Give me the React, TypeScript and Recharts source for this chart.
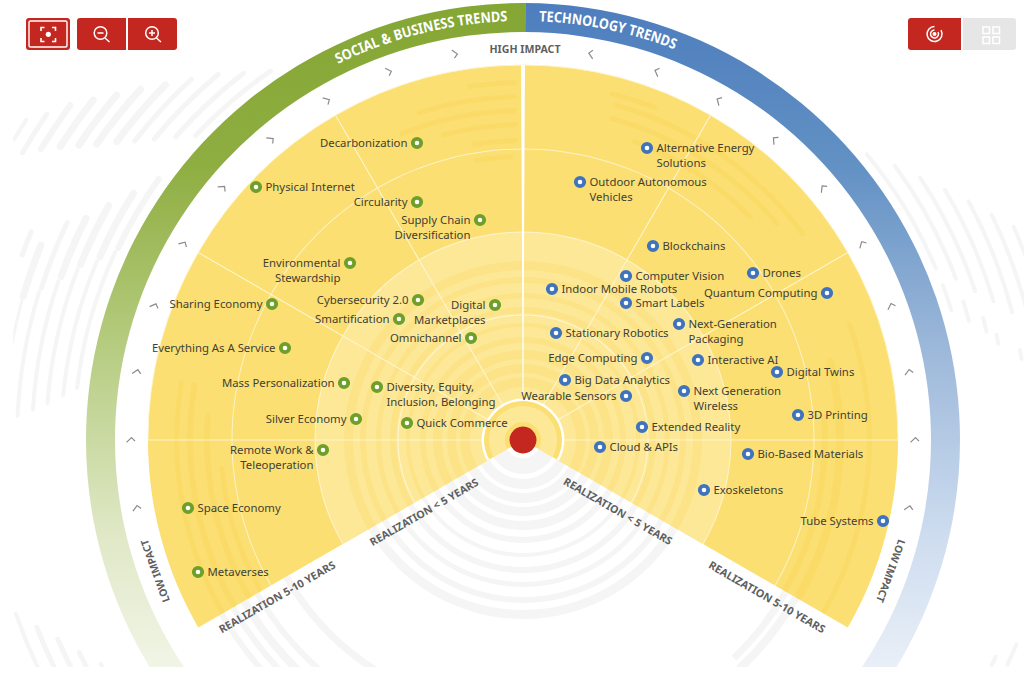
import React from "react";
import { PieChart, Pie, ScatterChart, Scatter, XAxis, YAxis } from "recharts";

const W = 1024;
const H = 667;
const HUB_X = 523;
const HUB_Y = 440;

// ---- trend data: position on the radar, relative to the hub (x right, y up)
const socialNames = [
  "Decarbonization", "Physical Internet", "Circularity", "Supply Chain\nDiversification",
  "Environmental\nStewardship", "Sharing Economy", "Cybersecurity 2.0", "Smartification",
  "Digital\nMarketplaces", "Omnichannel", "Everything As A Service", "Mass Personalization",
  "Diversity, Equity,\nInclusion, Belonging", "Silver Economy", "Quick Commerce",
  "Remote Work &\nTeleoperation", "Space Economy", "Metaverses",
];
const socialX = [-106, -267, -106, -43, -173, -251, -105, -124, -28, -52, -238, -179, -146, -167, -116, -200, -335, -325];
const socialY = [297, 253, 238, 220, 177, 136, 140, 121, 135, 102, 92, 57, 53, 21, 17, -10, -68, -132];

const techNames = [
  "Alternative Energy\nSolutions", "Outdoor Autonomous\nVehicles", "Blockchains", "Computer Vision",
  "Drones", "Indoor Mobile Robots", "Quantum Computing", "Smart Labels",
  "Next-Generation\nPackaging", "Stationary Robotics", "Edge Computing", "Interactive AI",
  "Digital Twins", "Big Data Analytics", "Wearable Sensors", "Next Generation\nWireless",
  "3D Printing", "Extended Reality", "Cloud & APIs", "Bio-Based Materials", "Exoskeletons", "Tube Systems",
];
const techX = [124, 57, 130, 103, 230, 29, 304, 103, 156, 33, 124, 175, 254, 42, 103, 161, 275, 119, 77, 225, 181, 360];
const techY = [292, 258, 194, 164, 167, 151, 147, 137, 116, 107, 82, 80, 68, 60, 44, 49, 25, 13, -7, -14, -50, -81];

const labelsOnLeft = [
  "Decarbonization", "Circularity", "Supply Chain\nDiversification", "Environmental\nStewardship",
  "Sharing Economy", "Cybersecurity 2.0", "Smartification", "Digital\nMarketplaces", "Omnichannel",
  "Everything As A Service", "Mass Personalization", "Silver Economy", "Remote Work &\nTeleoperation",
  "Quantum Computing", "Edge Computing", "Wearable Sensors", "Tube Systems",
];

const chevronAnglesLeft = [100, 110, 120, 130, 140, 150, 160, 170, 180, 190];
const chevronAnglesRight = [80, 70, 60, 50, 40, 30, 20, 10, 0, -10];
const CHEVRON_RADIUS = 392;

const spokeWedges = [30, 30, 30, 30, 30, 30];
const ringRadii = [125, 208, 291];

// decoration: [inner radius, outer radius]
const innerBands = [
  [18, 34], [39, 49], [53, 63], [67, 76], [81, 90], [97, 103], [113, 117],
  [127, 133], [142, 147], [157, 163], [170, 179],
];
// decoration in the yellow outer zone: [inner, outer, from angle, to angle]
const outerBands = [
  [355, 360, 91, 99], [341, 346, 91, 108], [327, 332, 91, 112], [313, 318, 91, 105], [297, 302, 91, 100],
  [281, 286, 92, 100], [355, 360, 68, 76], [345, 350, 36, 75], [331, 336, 40, 75], [316, 321, 44, 70],
  [344, 349, -30, 20], [313, 321, -30, 15], [299, 305, -30, 5], [344, 349, 170, 210], [330, 336, 170, 210],
  [313, 319, 175, 210], [300, 305, 185, 210],
];
// decoration below the fan: [inner, outer, from angle, to angle]
const lowerBands = [
  [345, 351, 210, 226], [332, 338, 210, 228], [318, 326, 210, 230], [304, 310, 210, 232], [270, 277, 210, 238],
  [300, 307, 314, 330], [311, 319, 312, 330],
];
// decoration outside the ring: [radius, from angle, to angle, thickness]
const stripes = [
  [591, 147, 149.6, 4], [577, 145.4, 150.4, 5], [563, 143.2, 149.2, 6], [548, 141.3, 148, 7], [533, 139.3, 146.8, 7],
  [519, 137.1, 145.6, 7], [504, 134.8, 144.1, 7], [490, 132.3, 142.7, 5], [476, 129.5, 141.1, 5], [461, 127, 139.2, 5], [447, 124.1, 137.4, 5],
  [448, 144, 155, 6], [461, 147.2, 157, 7], [476, 150.1, 158.8, 7], [490, 152.7, 160.9, 7], [505, 154.2, 162.8, 5], [520, 157.6, 164.4, 7], [534, 156.8, 160, 5],
  [449, 155, 173.6, 4], [462, 157, 174.7, 4], [477, 158.8, 175.8, 4], [491, 160.9, 176.7, 4], [506, 162.8, 177.5, 4], [520, 164.4, 178, 3],
  [536, 198.7, 206, 4], [521, 200.8, 208, 5], [506, 202.9, 208, 5], [492, 205.3, 209, 5], [478, 207.7, 210, 4],
  [447, 22.3, 40, 4], [462, 20.2, 36.7, 4], [476, 18, 33.7, 4], [490.5, 16.2, 30.9, 4], [505.5, 14.4, 28.4, 4], [520, 8, 25.9, 4], [535, 8, 23.7, 4],
  [447.5, 16.6, 20.5, 4], [461.5, 14.7, 17.7, 4], [476, 12.9, 15.1, 4], [485, 11.2, 12.8, 4], [505, 9, 10.5, 4],
  [534, -25.1, -22.3, 4], [520, -25.9, -24.4, 4],
];

const FONT = "'Noto Sans', sans-serif";
const TEXT = "#3f3f33";
const RED = "#c4271f";
const DARK = "#fbdf73";
const LIGHT = "#fde898";
const DARK_BAND = "#fadb68";
const LIGHT_BAND = "#fce388";
const GREY = "#f5f5f5";

const num = (v: number) => [{ value: v }];

const trendRows = (names: string[], xs: number[], ys: number[]) =>
  names.map((name, i) => ({ name, x: xs[i], y: ys[i] }));
const socialRows = trendRows(socialNames, socialX, socialY);
const techRows = trendRows(techNames, techX, techY);

const chevronRows = (angles: number[], rotate: (a: number) => number) =>
  angles.map((a) => ({
    x: CHEVRON_RADIUS * Math.cos((a * Math.PI) / 180),
    y: CHEVRON_RADIUS * Math.sin((a * Math.PI) / 180),
    rotation: rotate(a),
  }));
const chevrons = [
  ...chevronRows(chevronAnglesLeft, (a) => 180 - a),
  ...chevronRows(chevronAnglesRight, (a) => -a),
];

const trendShape = (color: string) => (props: any) => {
  const { cx, cy, payload } = props;
  const left = labelsOnLeft.includes(payload.name);
  const lines: string[] = payload.name.split("\n");
  return (
    <g>
      <circle cx={cx} cy={cy} r={4.2} fill="#fff" stroke={color} strokeWidth={3.8} />
      <text
        x={left ? cx - 9.5 : cx + 9.5}
        y={cy + 4}
        textAnchor={left ? "end" : "start"}
        fontFamily={FONT}
        fontSize={11.35}
        fill={TEXT}
      >
        {lines.map((l, i) => (
          <tspan key={i} x={left ? cx - 9.5 : cx + 9.5} dy={i === 0 ? 0 : 15.4}>
            {l}
          </tspan>
        ))}
      </text>
    </g>
  );
};

const chevronShape = (props: any) => {
  const { cx, cy, payload } = props;
  return (
    <path
      d="M-4.5 2.4 L0.5 -2.4 L4 1.2"
      transform={`translate(${cx} ${cy}) rotate(${payload.rotation})`}
      fill="none"
      stroke="#8b8b8b"
      strokeWidth={1.2}
    />
  );
};

const arcPath = (r: number, fromDeg: number, toDeg: number) => {
  const p = (a: number) => [HUB_X + r * Math.cos((a * Math.PI) / 180), HUB_Y - r * Math.sin((a * Math.PI) / 180)];
  const [x1, y1] = p(fromDeg);
  const [x2, y2] = p(toDeg);
  return `M${x1} ${y1} A${r} ${r} 0 0 1 ${x2} ${y2}`;
};

const bold = { fontFamily: FONT, fontWeight: 700, fill: "#5f5f5f" } as const;

const Captions = () => (
  <svg width={W} height={H} style={{ position: "absolute", left: 0, top: 0 }}>
    <defs>
      <path id="socialPath" d={arcPath(419, 116.2, 92)} />
      <path id="techPath" d={arcPath(419, 87.8, 68.6)} />
    </defs>
    <text fontFamily={FONT} fontWeight={700} fontSize={14.5} fill="#fff">
      <textPath href="#socialPath" textLength={176} lengthAdjust="spacingAndGlyphs">
        SOCIAL &amp; BUSINESS TRENDS
      </textPath>
    </text>
    <text fontFamily={FONT} fontWeight={700} fontSize={14.5} fill="#fff">
      <textPath href="#techPath" textLength={139} lengthAdjust="spacingAndGlyphs">
        TECHNOLOGY TRENDS
      </textPath>
    </text>
    <text {...bold} x={525} y={53} fontSize={10.8} textAnchor="middle" textLength={71} lengthAdjust="spacingAndGlyphs">HIGH IMPACT</text>
    <text {...bold} transform="translate(155 571) rotate(-110)" fontSize={10.4} textAnchor="middle" dy={4}>LOW IMPACT</text>
    <text {...bold} transform="translate(891 571) rotate(110)" fontSize={10.4} textAnchor="middle" dy={4}>LOW IMPACT</text>
    <text {...bold} transform="translate(424 512) rotate(-30)" fontSize={10.6} textAnchor="middle" dy={4}>REALIZATION &lt; 5 YEARS</text>
    <text {...bold} transform="translate(618 511) rotate(30)" fontSize={10.6} textAnchor="middle" dy={4}>REALIZATION &lt; 5 YEARS</text>
    <text {...bold} transform="translate(277 597) rotate(-30)" fontSize={10.8} textAnchor="middle" dy={4}>REALIZATION 5-10 YEARS</text>
    <text {...bold} transform="translate(767 597) rotate(30)" fontSize={10.8} textAnchor="middle" dy={4}>REALIZATION 5-10 YEARS</text>
  </svg>
);

const Buttons = () => (
  <svg width={W} height={60} style={{ position: "absolute", left: 0, top: 0 }}>
    <rect x={26} y={18} width={44} height={32} rx={3} fill={RED} />
    <rect x={29} y={21} width={38} height={26} rx={1.5} fill={RED} stroke="#fff" strokeWidth={1.4} />
    <path d="M41 31v-3.5h3.5M52 27.5h3.5V31M55.5 38v3.5H52M44.5 41.5H41V38" fill="none" stroke="#fff" strokeWidth={1.6} />
    <circle cx={48.3} cy={34.3} r={2.6} fill="#fff" />
    <path d="M80 18h46v32H80a3 3 0 0 1-3-3V21a3 3 0 0 1 3-3z" fill={RED} />
    <path d="M128 18h46a3 3 0 0 1 3 3v26a3 3 0 0 1-3 3h-46z" fill={RED} />
    <circle cx={100.5} cy={33} r={6.3} fill="none" stroke="#fff" strokeWidth={1.5} />
    <path d="M97.5 33h6M105 38l4.5 4" stroke="#fff" strokeWidth={1.5} fill="none" />
    <circle cx={152} cy={33} r={6.3} fill="none" stroke="#fff" strokeWidth={1.5} />
    <path d="M149 33h6M152 30v6M156.5 38l4.5 4" stroke="#fff" strokeWidth={1.5} fill="none" />
    <path d="M911 18h50v32h-50a3 3 0 0 1-3-3V21a3 3 0 0 1 3-3z" fill={RED} />
    <path d="M963 18h50a3 3 0 0 1 3 3v26a3 3 0 0 1-3 3h-50z" fill="#e6e6e6" />
    <circle cx={934.5} cy={34} r={2} fill="#fff" />
    <path d="M934.5 26.5a7.5 7.5 0 1 0 6.5 3.7M934.5 30a4 4 0 1 0 3.5 2" fill="none" stroke="#fff" strokeWidth={1.5} />
    {[[983, 27], [993, 27], [983, 37], [993, 37]].map(([x, y]) => (
      <rect key={`${x}-${y}`} x={x} y={y} width={6.5} height={6.5} fill="none" stroke="#fff" strokeWidth={1.5} />
    ))}
  </svg>
);

const pieBase = { dataKey: "value", cx: HUB_X, cy: HUB_Y, stroke: "none", isAnimationActive: false } as const;

export default function App() {
  return (
    <div style={{ position: "absolute", left: 0, top: 0, width: W, height: 699, background: "#fff", overflow: "hidden" }}>
      {/* stripes outside the ring, cut off at the left picture edge */}
      <div style={{ position: "absolute", left: 13, top: 0 }}>
        <PieChart width={W - 13} height={H} margin={{ top: 0, right: 0, bottom: 0, left: 0 }}>
          {stripes.map(([r, a, b, t], i) => (
            <Pie
              key={i}
              {...pieBase}
              cx={HUB_X - 13}
              data={num(1)}
              innerRadius={r - t / 2}
              outerRadius={r + t / 2}
              startAngle={a}
              endAngle={b}
              cornerRadius={t / 2}
              fill={GREY}
            />
          ))}
        </PieChart>
      </div>

      <div style={{ position: "absolute", left: 0, top: 0 }}>
        <PieChart width={W} height={H} margin={{ top: 0, right: 0, bottom: 0, left: 0 }}>
          <defs>
            <linearGradient id="greenRing" gradientUnits="userSpaceOnUse" x1={0} y1={0} x2={0} y2={H}>
              <stop offset="0" stopColor="#84a633" />
              <stop offset="0.25" stopColor="#8fae42" />
              <stop offset="0.5" stopColor="#b3ca7c" />
              <stop offset="0.8" stopColor="#dfe8c6" />
              <stop offset="1" stopColor="#f1f5e6" />
            </linearGradient>
            <linearGradient id="blueRing" gradientUnits="userSpaceOnUse" x1={0} y1={0} x2={0} y2={H}>
              <stop offset="0" stopColor="#4d7dbd" />
              <stop offset="0.25" stopColor="#6291c4" />
              <stop offset="0.5" stopColor="#98b5d8" />
              <stop offset="0.8" stopColor="#cddcef" />
              <stop offset="1" stopColor="#e9eff7" />
            </linearGradient>
          </defs>

          {/* grey bands below the fan */}
          {innerBands.map(([a, b], i) => (
            <Pie key={`g${i}`} {...pieBase} data={num(1)} innerRadius={a} outerRadius={b} startAngle={210} endAngle={330} fill={GREY} />
          ))}
          {lowerBands.map(([a, b, s, e], i) => (
            <Pie key={`l${i}`} {...pieBase} data={num(1)} innerRadius={a} outerRadius={b} startAngle={s} endAngle={e} fill={GREY} />
          ))}

          {/* ring */}
          <Pie {...pieBase} data={num(1)} innerRadius={408} outerRadius={437} startAngle={89.7} endAngle={216} fill="url(#greenRing)" />
          <Pie {...pieBase} data={num(1)} innerRadius={408} outerRadius={437} startAngle={-36} endAngle={89.7} fill="url(#blueRing)" />

          {/* fan */}
          <Pie {...pieBase} data={num(1)} innerRadius={0} outerRadius={375} startAngle={-30} endAngle={210} fill={DARK} />
          <Pie {...pieBase} data={num(1)} innerRadius={40} outerRadius={208} startAngle={-30} endAngle={210} fill={LIGHT} />
          {outerBands.map(([a, b, s, e], i) => (
            <Pie key={`o${i}`} {...pieBase} data={num(1)} innerRadius={a} outerRadius={b} startAngle={s} endAngle={e} cornerRadius={(b - a) / 2} fill={DARK_BAND} />
          ))}
          {innerBands.map(([a, b], i) => (
            <Pie key={`i${i}`} {...pieBase} data={num(1)} innerRadius={a} outerRadius={b} startAngle={-30} endAngle={210} fill={i < 2 ? LIGHT : LIGHT_BAND} />
          ))}

          {/* circles and spokes */}
          {ringRadii.map((r) => (
            <Pie key={r} {...pieBase} data={num(1)} innerRadius={r - 0.5} outerRadius={r + 0.5} startAngle={-30} endAngle={210} fill="#fff" fillOpacity={0.6} />
          ))}
          <Pie
            {...pieBase}
            data={spokeWedges.map((value) => ({ value }))}
            innerRadius={40}
            outerRadius={375}
            startAngle={0}
            endAngle={180}
            fill="none"
            stroke="#fff4c8"
            strokeWidth={1}
          />
          <Pie {...pieBase} data={num(1)} innerRadius={40} outerRadius={375} startAngle={89.7} endAngle={90.3} fill="#fff" />
          <Pie {...pieBase} data={num(1)} innerRadius={39} outerRadius={41.4} startAngle={-30} endAngle={210} fill="#fff" />
          <Pie {...pieBase} data={num(1)} innerRadius={0} outerRadius={13.5} startAngle={0} endAngle={360} fill={RED} />
        </PieChart>
      </div>

      <Captions />

      {/* trends */}
      <div style={{ position: "absolute", left: 0, top: 0 }}>
        <ScatterChart width={W} height={H} margin={{ top: 0, right: 0, bottom: 0, left: 0 }}>
          <XAxis type="number" dataKey="x" domain={[-HUB_X, W - HUB_X]} hide allowDataOverflow />
          <YAxis type="number" dataKey="y" domain={[HUB_Y - H, HUB_Y]} hide allowDataOverflow />
          <Scatter data={chevrons} shape={chevronShape} isAnimationActive={false} />
          <Scatter data={socialRows} shape={trendShape("#6f9f2b")} isAnimationActive={false} />
          <Scatter data={techRows} shape={trendShape("#3f74bd")} isAnimationActive={false} />
        </ScatterChart>
      </div>

      <Buttons />
    </div>
  );
}
